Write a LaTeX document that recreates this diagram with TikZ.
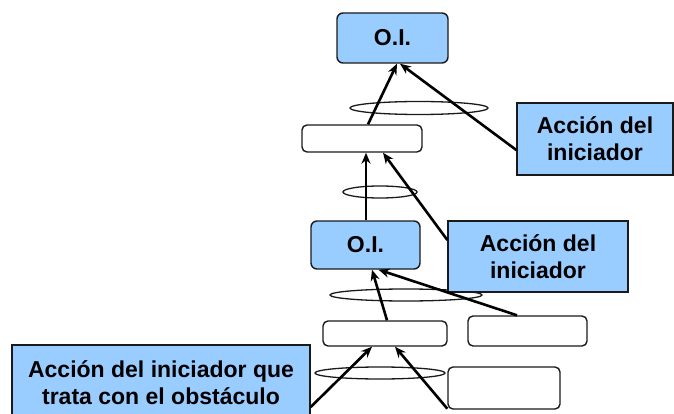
\documentclass[tikz,border=0pt]{standalone}
\usepackage{fontspec}
\setmainfont{Liberation Sans}
\usetikzlibrary{arrows.meta,calc}
\definecolor{boxblue}{HTML}{99CCFF}
\definecolor{edge}{HTML}{1A1A1A}
\tikzset{
  oibox/.style={draw=edge, line width=1.4pt, fill=boxblue, rounded corners=6pt, inner sep=0pt, font=\fontsize{23}{27}\selectfont\bfseries},
  emptybox/.style={draw=edge, line width=1.4pt, fill=white, rounded corners=5pt, inner sep=0pt},
  actbox/.style={draw=edge, line width=1.4pt, fill=boxblue, inner sep=0pt, align=center, font=\fontsize{23}{27}\selectfont\bfseries},
  arr/.style={line width=2.6pt, draw=black, -{Stealth[length=11pt,width=9pt]}},
  ring/.style={draw=edge, line width=1.3pt}
}
\begin{document}
\begin{tikzpicture}[x=1pt,y=-1pt]
\useasboundingbox (0,0) rectangle (674,414);
\clip (0,0) rectangle (674,414);
% ellipses
\draw[ring] (419,108) ellipse [x radius=69, y radius=6.5];
\draw[ring] (380,192) ellipse [x radius=37, y radius=6];
\draw[ring] (406,295) ellipse [x radius=76, y radius=6];
\draw[ring] (380,373) ellipse [x radius=65, y radius=6];
% nodes
\node[oibox, minimum width=111pt, minimum height=50pt] (oi1) at (392.5,38) {O.I.};
\node[emptybox, minimum width=120pt, minimum height=27pt] (b2) at (362,138.5) {};
\node[actbox, minimum width=156pt, minimum height=72pt] (a1) at (595,139) {Acción del\\iniciador};
\node[oibox, minimum width=109pt, minimum height=48pt] (oi2) at (365.5,245) {O.I.};
\node[actbox, minimum width=180pt, minimum height=71pt] (a2) at (538,256.5) {Acción del\\iniciador};
\node[emptybox, minimum width=124pt, minimum height=25pt] (b3) at (385,333.5) {};
\node[emptybox, minimum width=119pt, minimum height=30pt] (b4) at (527.5,331) {};
\node[emptybox, minimum width=112pt, minimum height=42pt] (b5) at (504,388) {};
\node[actbox, minimum width=298pt, minimum height=75pt] (a3) at (161,382.5) {Acción del iniciador que\\trata con el obstáculo};
% connectors
\draw[arr] ([xshift=6pt]b2.north) -- ([xshift=4.5pt]oi1.south);
\draw[arr] ([yshift=-11pt]a1.west) -- ([xshift=7.5pt]oi1.south);
\draw[arr] ([xshift=0.5pt]oi2.north) -- ([xshift=4pt]b2.south);
\draw[arr] ([yshift=16.5pt]a2.west) -- ([xshift=21pt]b2.south);
\draw[arr] ([xshift=2pt]b3.north) -- ([xshift=6.5pt]oi2.south);
\draw[arr] ([xshift=-10.5pt]b4.north) -- ([xshift=13pt]oi2.south);
\draw[arr] ([yshift=-24.5pt]a3.east) -- ([xshift=-13pt]b3.south);
\draw[arr] ([yshift=1pt]b5.south west) -- ([xshift=10pt]b3.south);
\end{tikzpicture}
\end{document}
